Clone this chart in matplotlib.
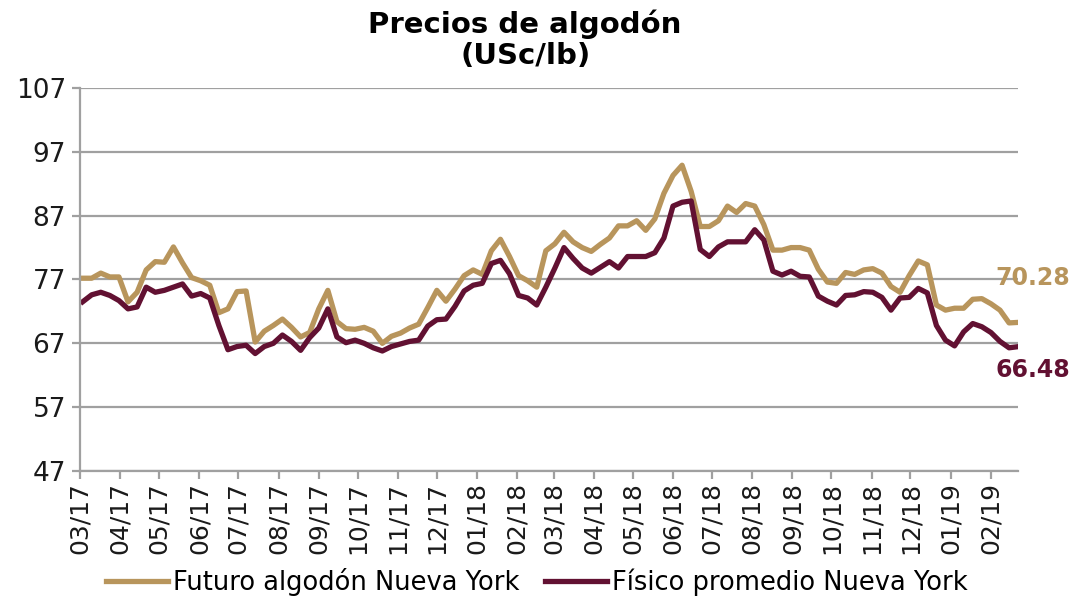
import matplotlib
matplotlib.use("Agg")
import matplotlib.pyplot as plt
import matplotlib.dates as mdates
import pandas as pd

# weekly data, Mar 2017 - Feb 2019
start_date = "2017-03-03"
futuro = [77.2, 77.2, 78.0, 77.4, 77.4, 73.5, 75.0, 78.5, 79.8, 79.7,
          82.1, 79.6, 77.3, 76.8, 76.1, 71.8, 72.4, 75.1, 75.2, 67.2,
          68.9, 69.8, 70.8, 69.5, 68.0, 68.7, 72.4, 75.3, 70.4, 69.3,
          69.2, 69.5, 68.9, 67.0, 68.1, 68.6, 69.4, 70.0, 72.6, 75.3,
          73.6, 75.5, 77.6, 78.5, 77.8, 81.5, 83.3, 80.6, 77.6, 76.8,
          75.8, 81.5, 82.6, 84.4, 82.9, 82.0, 81.4, 82.5, 83.5, 85.4,
          85.4, 86.2, 84.7, 86.5, 90.5, 93.3, 94.9, 90.8, 85.3, 85.3,
          86.2, 88.5, 87.5, 88.9, 88.5, 85.6, 81.6, 81.6, 82.0, 82.0,
          81.6, 78.6, 76.6, 76.4, 78.1, 77.8, 78.5, 78.7, 78.0, 75.9,
          75.0, 77.6, 79.9, 79.3, 73.0, 72.2, 72.5, 72.5, 73.9, 74.0,
          73.2, 72.2, 70.2, 70.28]
fisico = [73.5, 74.6, 75.0, 74.5, 73.7, 72.4, 72.7, 75.8, 75.0, 75.3,
          75.8, 76.3, 74.4, 74.8, 74.1, 69.8, 66.0, 66.5, 66.7, 65.4,
          66.5, 67.0, 68.3, 67.3, 65.9, 67.9, 69.4, 72.4, 68.0, 67.1,
          67.5, 67.0, 66.3, 65.8, 66.5, 66.9, 67.3, 67.5, 69.7, 70.7,
          70.8, 72.8, 75.2, 76.1, 76.4, 79.5, 80.0, 77.9, 74.5, 74.1,
          73.0, 75.8, 78.8, 82.0, 80.3, 78.8, 78.0, 78.9, 79.8, 78.8,
          80.6, 80.6, 80.6, 81.2, 83.5, 88.5, 89.1, 89.3, 81.7, 80.6,
          82.1, 82.9, 82.9, 82.9, 84.8, 83.2, 78.3, 77.7, 78.3, 77.5,
          77.4, 74.4, 73.6, 73.0, 74.5, 74.6, 75.1, 75.0, 74.2, 72.2,
          74.1, 74.2, 75.6, 74.9, 69.8, 67.5, 66.6, 68.8, 70.1, 69.6,
          68.7, 67.3, 66.3, 66.48]
y_ticks = [47, 57, 67, 77, 87, 97, 107]

gold = "#B8955C"
wine = "#621132"
grid_c = "#A0A0A0"

dates = pd.date_range(start_date, periods=len(futuro), freq="7D")

fig = plt.figure(figsize=(10.74, 6.01), dpi=100)
ax = fig.add_axes([0.0745, 0.2163, 0.8735, 0.6373])

ax.plot(dates, futuro, color=gold, lw=3.8, label="Futuro algodón Nueva York")
ax.plot(dates, fisico, color=wine, lw=3.8, label="Físico promedio Nueva York")

ax.set_ylim(47, 107)
ax.set_yticks(y_ticks)
ax.set_xlim(pd.Timestamp("2017-03-01"), dates[-1])
ax.xaxis.set_major_locator(mdates.MonthLocator())
ax.xaxis.set_major_formatter(mdates.DateFormatter("%m/%y"))
ax.yaxis.grid(True, color=grid_c, lw=1.6)
ax.set_axisbelow(True)
for s in ["top", "right"]:
    ax.spines[s].set_visible(False)
for s in ["left", "bottom"]:
    ax.spines[s].set_color(grid_c)
    ax.spines[s].set_linewidth(1.6)
ax.tick_params(axis="both", colors=grid_c, width=1.6, length=6, labelcolor="#1a1a1a")
ax.tick_params(axis="y", labelsize=19, pad=4)
ax.tick_params(axis="x", labelsize=18, rotation=90, pad=2)

ax.annotate(f"{futuro[-1]:.2f}", xy=(dates[-1], futuro[-1]), xytext=(15, 44),
            textcoords="offset pixels", ha="center", va="center",
            color=gold, fontsize=17, fontweight="bold")
ax.annotate(f"{fisico[-1]:.2f}", xy=(dates[-1], fisico[-1]), xytext=(15, -23),
            textcoords="offset pixels", ha="center", va="center",
            color=wine, fontsize=17, fontweight="bold")

fig.text(0.489, 0.985, "Precios de algodón\n(USc/lb)", ha="center", va="top",
         fontsize=21, fontweight="bold", linespacing=1.15)

fig.legend(loc="lower center", bbox_to_anchor=(0.5, -0.03), ncol=2, frameon=False,
           fontsize=18.5, handlelength=2.4, handletextpad=0.2, columnspacing=1.0)

fig.savefig("out.png", dpi=100)
